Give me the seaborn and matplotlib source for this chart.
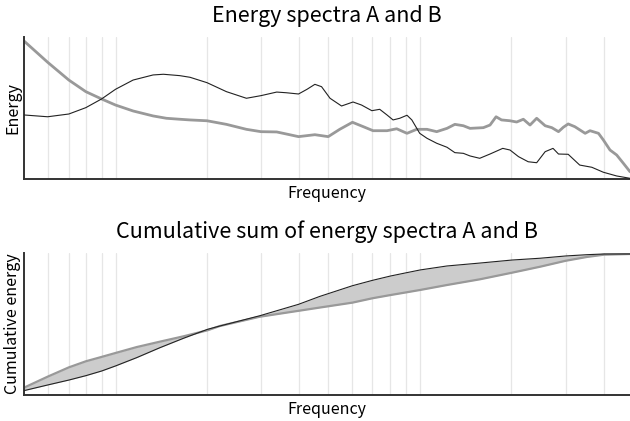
import numpy as np
import pandas as pd
import matplotlib
matplotlib.use("Agg")
import matplotlib.pyplot as plt
import seaborn as sns

# ---- data ----
freq_a = [0, 39, 74, 102, 128, 151, 180, 213, 230, 257, 274, 302, 334, 367, 391, 417, 433, 453,
          467, 480, 491, 505, 524, 543, 557, 574, 587, 599, 609, 620, 632, 640, 653, 665, 681,
          698, 711, 725, 736, 752, 769, 790, 802, 816, 832, 846, 860, 873, 882, 898, 917, 937,
          956, 978, 1000]
energy_a = [0.464, 0.451, 0.471, 0.517, 0.580, 0.650, 0.717, 0.754, 0.759, 0.749, 0.737, 0.698,
            0.633, 0.585, 0.604, 0.630, 0.625, 0.616, 0.650, 0.686, 0.669, 0.585, 0.529, 0.558,
            0.536, 0.495, 0.505, 0.464, 0.428, 0.440, 0.462, 0.428, 0.331, 0.295, 0.259, 0.230,
            0.191, 0.186, 0.167, 0.150, 0.181, 0.222, 0.210, 0.162, 0.125, 0.118, 0.198, 0.222,
            0.181, 0.179, 0.101, 0.085, 0.049, 0.022, 0.005]

freq_b = [0, 39, 74, 102, 128, 151, 180, 213, 235, 257, 274, 302, 334, 367, 391, 417, 433, 453,
          480, 502, 521, 542, 560, 576, 599, 615, 632, 648, 665, 681, 698, 711, 725, 736, 758,
          769, 779, 788, 802, 813, 824, 835, 846, 860, 871, 882, 890, 898, 909, 926, 934, 948,
          956, 967, 978, 989, 1000]
energy_b = [1.0, 0.846, 0.717, 0.633, 0.580, 0.536, 0.493, 0.457, 0.440, 0.433, 0.428, 0.422,
            0.396, 0.360, 0.343, 0.341, 0.326, 0.307, 0.321, 0.307, 0.360, 0.411, 0.379, 0.350,
            0.350, 0.364, 0.331, 0.360, 0.360, 0.343, 0.367, 0.396, 0.386, 0.367, 0.372, 0.391,
            0.451, 0.428, 0.422, 0.413, 0.433, 0.391, 0.440, 0.386, 0.372, 0.343, 0.375, 0.399,
            0.379, 0.331, 0.350, 0.331, 0.283, 0.210, 0.174, 0.114, 0.053]

freq_cum = [0, 39, 74, 102, 128, 151, 186, 224, 263, 303, 323, 389, 453, 488, 542, 575, 605, 631,
            654, 698, 753, 805, 852, 894, 929, 957, 1000]
cum_a = [0.031, 0.071, 0.106, 0.137, 0.170, 0.206, 0.265, 0.335, 0.402, 0.466, 0.489, 0.562,
         0.643, 0.699, 0.775, 0.813, 0.844, 0.867, 0.887, 0.915, 0.936, 0.957, 0.970, 0.986,
         0.995, 1.0, 1.0]
cum_b = [0.052, 0.130, 0.196, 0.239, 0.270, 0.298, 0.340, 0.378, 0.416, 0.459, 0.489, 0.555,
         0.597, 0.620, 0.655, 0.686, 0.709, 0.728, 0.745, 0.780, 0.821, 0.867, 0.910, 0.952,
         0.979, 0.995, 1.0]

grid_freqs = [39, 74, 102, 128, 151, 302, 391, 453, 502, 542, 575, 604, 631, 653, 804, 894, 957]

# ---- style ----
sns.set_style("white")
plt.rcParams['font.family'] = ['Noto Sans CJK JP', 'DejaVu Sans']

fig = plt.figure(figsize=(6.3, 4.21), dpi=100)
ax1 = fig.add_axes([24 / 630, 1 - 179 / 421, 606 / 630, 142 / 421])
ax2 = fig.add_axes([24 / 630, 1 - 395 / 421, 606 / 630, 142 / 421])

df_a = pd.DataFrame({"f": freq_a, "e": energy_a})
df_b = pd.DataFrame({"f": freq_b, "e": energy_b})
df_c = pd.DataFrame({"f": freq_cum, "a": cum_a, "b": cum_b})

sns.lineplot(data=df_a, x="f", y="e", ax=ax1, color="#222222", lw=0.8, zorder=3)
sns.lineplot(data=df_b, x="f", y="e", ax=ax1, color="#999999", lw=2.0, zorder=2)

ax2.fill_between(df_c["f"], df_c["a"], df_c["b"], color="#cccccc", lw=0, zorder=1)
sns.lineplot(data=df_c, x="f", y="a", ax=ax2, color="#222222", lw=0.8, zorder=3)
sns.lineplot(data=df_c, x="f", y="b", ax=ax2, color="#999999", lw=1.6, zorder=2)

for ax in (ax1, ax2):
    for g in grid_freqs:
        ax.axvline(g, color="#e6e6e6", lw=0.9, zorder=0)
    for s in ("top", "right"):
        ax.spines[s].set_visible(False)
    for s in ("left", "bottom"):
        ax.spines[s].set_color("#333333")
        ax.spines[s].set_linewidth(1.4)
    ax.set_xticks([])
    ax.set_yticks([])
    ax.set_xlim(0, 1000)

ax1.set_ylim(0, 1.029)
ax2.set_ylim(0, 1.007)

ax1.set_title("Energy spectra A and B", fontsize=15.5, pad=11, color="black")
ax2.set_title("Cumulative sum of energy spectra A and B", fontsize=15.5, pad=10.5, color="black")
ax1.set_xlabel("Frequency", fontsize=11.5, labelpad=4.5, color="black", visible=True)
ax2.set_xlabel("Frequency", fontsize=11.5, labelpad=4.5, color="black", visible=True)
ax1.set_ylabel("Energy", fontsize=11.5, labelpad=2, color="black", visible=True)
ax2.set_ylabel("Cumulative energy", fontsize=11.5, labelpad=2, color="black", visible=True)

fig.savefig("out.png", dpi=100)
